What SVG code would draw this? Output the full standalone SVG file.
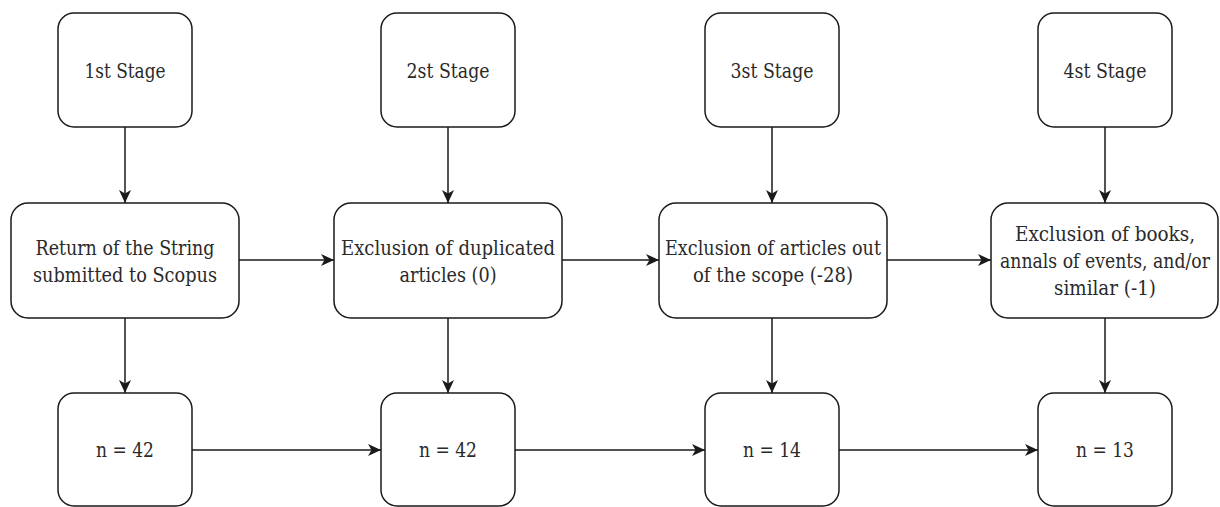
<svg xmlns="http://www.w3.org/2000/svg" width="1220" height="507" viewBox="0 0 1220 507">
<style>
.box{fill:#fff;stroke:#1a1a1a;stroke-width:1.5}
.t{font-family:'DejaVu Serif',serif;font-size:20.5px;fill:#2a2a2a;text-anchor:middle}
.c{stroke:#1a1a1a;stroke-width:1.5;fill:none;marker-end:url(#arr)}
</style>
<defs>
<marker id="arr" markerUnits="userSpaceOnUse" markerWidth="14" markerHeight="13" refX="13" refY="6.5" orient="auto">
<path d="M0,0.5 L13,6.5 L0,12.5 L3.5,6.5 z" fill="#1a1a1a"/>
</marker>
</defs>
<rect width="1220" height="507" fill="#fff"/>
<g id="connectors">
<line class="c" x1="125" y1="127" x2="125" y2="203"/>
<line class="c" x1="448" y1="127" x2="448" y2="203"/>
<line class="c" x1="772" y1="127" x2="772" y2="203"/>
<line class="c" x1="1105" y1="127" x2="1105" y2="203"/>
<line class="c" x1="125" y1="318" x2="125" y2="393"/>
<line class="c" x1="448" y1="318" x2="448" y2="393"/>
<line class="c" x1="772" y1="318" x2="772" y2="393"/>
<line class="c" x1="1105" y1="318" x2="1105" y2="393"/>
<line class="c" x1="239" y1="260" x2="334" y2="260"/>
<line class="c" x1="562" y1="260" x2="659" y2="260"/>
<line class="c" x1="887" y1="260" x2="991" y2="260"/>
<line class="c" x1="192" y1="450" x2="381" y2="450"/>
<line class="c" x1="515" y1="450" x2="705" y2="450"/>
<line class="c" x1="839" y1="450" x2="1038" y2="450"/>
</g>
<g id="stage1"><rect class="box" x="58" y="13" width="134" height="114" rx="16"/><text class="t" x="125" y="78" textLength="81" lengthAdjust="spacingAndGlyphs">1st Stage</text></g>
<g id="stage2"><rect class="box" x="381" y="13" width="134" height="114" rx="16"/><text class="t" x="448" y="78" textLength="83" lengthAdjust="spacingAndGlyphs">2st Stage</text></g>
<g id="stage3"><rect class="box" x="705" y="13" width="134" height="114" rx="16"/><text class="t" x="772" y="78" textLength="83" lengthAdjust="spacingAndGlyphs">3st Stage</text></g>
<g id="stage4"><rect class="box" x="1038" y="13" width="134" height="114" rx="16"/><text class="t" x="1105" y="78" textLength="83" lengthAdjust="spacingAndGlyphs">4st Stage</text></g>
<g id="step1"><rect class="box" x="11" y="203" width="228" height="115" rx="17"/><text class="t" x="125" y="255" textLength="179" lengthAdjust="spacingAndGlyphs">Return of the String</text><text class="t" x="125" y="282" textLength="184" lengthAdjust="spacingAndGlyphs">submitted to Scopus</text></g>
<g id="step2"><rect class="box" x="334" y="203" width="228" height="115" rx="17"/><text class="t" x="448" y="255" textLength="214" lengthAdjust="spacingAndGlyphs">Exclusion of duplicated</text><text class="t" x="448" y="282" textLength="97" lengthAdjust="spacingAndGlyphs">articles (0)</text></g>
<g id="step3"><rect class="box" x="659" y="203" width="228" height="115" rx="17"/><text class="t" x="773" y="255" textLength="216" lengthAdjust="spacingAndGlyphs">Exclusion of articles out</text><text class="t" x="773" y="282" textLength="160" lengthAdjust="spacingAndGlyphs">of the scope (-28)</text></g>
<g id="step4"><rect class="box" x="991" y="203" width="227" height="115" rx="17"/><text class="t" x="1105" y="241" textLength="180" lengthAdjust="spacingAndGlyphs">Exclusion of books,</text><text class="t" x="1105" y="268" textLength="210" lengthAdjust="spacingAndGlyphs">annals of events, and/or</text><text class="t" x="1105" y="295" textLength="102" lengthAdjust="spacingAndGlyphs">similar (-1)</text></g>
<g id="count1"><rect class="box" x="58" y="393" width="134" height="113" rx="16"/><text class="t" x="125" y="457" textLength="58" lengthAdjust="spacingAndGlyphs">n = 42</text></g>
<g id="count2"><rect class="box" x="381" y="393" width="134" height="113" rx="16"/><text class="t" x="448" y="457" textLength="58" lengthAdjust="spacingAndGlyphs">n = 42</text></g>
<g id="count3"><rect class="box" x="705" y="393" width="134" height="113" rx="16"/><text class="t" x="772" y="457" textLength="58" lengthAdjust="spacingAndGlyphs">n = 14</text></g>
<g id="count4"><rect class="box" x="1038" y="393" width="134" height="113" rx="16"/><text class="t" x="1105" y="457" textLength="58" lengthAdjust="spacingAndGlyphs">n = 13</text></g>
</svg>
